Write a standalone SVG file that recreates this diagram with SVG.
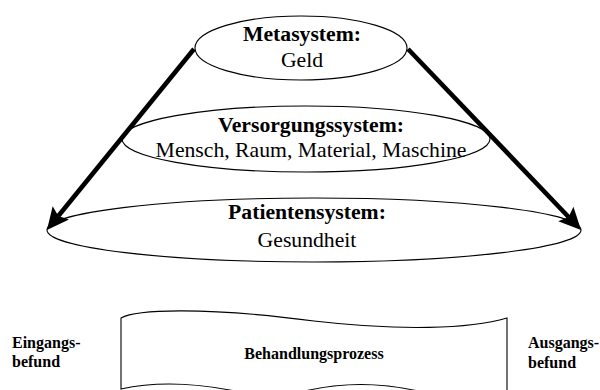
<svg xmlns="http://www.w3.org/2000/svg" width="600" height="390" viewBox="0 0 600 390">
<style>
.shape{fill:#fff;stroke:#000;stroke-width:1.1}
.t{font-family:"Liberation Serif","Times New Roman",serif;font-size:21.7px;fill:#000;text-anchor:middle}
.b{font-weight:bold}
.s{font-family:"Liberation Serif","Times New Roman",serif;font-size:16px;font-weight:bold;fill:#000}
.arr{stroke:#000;stroke-width:4.6;fill:none;marker-end:url(#ah)}
</style>
<defs>
<marker id="ah" markerUnits="userSpaceOnUse" markerWidth="30" markerHeight="30" viewBox="-8 -15 30 30" refX="0" refY="0" orient="auto" overflow="visible">
<path d="M18,0 L-4,-10.5 L0,0 L-4,10.5 Z" fill="#000"/>
</marker>
</defs>
<g id="patientensystem">
<ellipse class="shape" cx="314" cy="230" rx="267" ry="32"/>
<text class="t b" x="307" y="219">Patientensystem:</text>
<text class="t" x="307" y="247">Gesundheit</text>
</g>
<g id="versorgungssystem">
<ellipse class="shape" cx="306" cy="139" rx="184" ry="33"/>
<text class="t b" x="311" y="132">Versorgungssystem:</text>
<text class="t" x="311" y="157">Mensch, Raum, Material, Maschine</text>
</g>
<g id="metasystem">
<ellipse class="shape" cx="301" cy="48" rx="106" ry="32"/>
<text class="t b" x="302" y="40.5">Metasystem:</text>
<text class="t" x="302" y="66.5">Geld</text>
</g>
<g id="behandlungsprozess">
<path class="shape" d="M121,318 C135,310 200,306 314,321 C400,331 470,329 507,318 L507,396 Q470,402 418,391 Q360,378 305,391 Q270,400 235,391 Q170,378 121,389 Z"/>
<text class="s" x="314" y="359" text-anchor="middle">Behandlungsprozess</text>
</g>
<g id="eingangsbefund">
<text class="s" x="12" y="348">Eingangs-</text>
<text class="s" x="12" y="367">befund</text>
</g>
<g id="ausgangsbefund">
<text class="s" x="528" y="348">Ausgangs-</text>
<text class="s" x="528" y="368">befund</text>
</g>
<g id="connectors">
<line class="arr" x1="194" y1="49" x2="58.3" y2="216"/>
<line class="arr" x1="408" y1="49" x2="568.6" y2="217"/>
</g>
</svg>
